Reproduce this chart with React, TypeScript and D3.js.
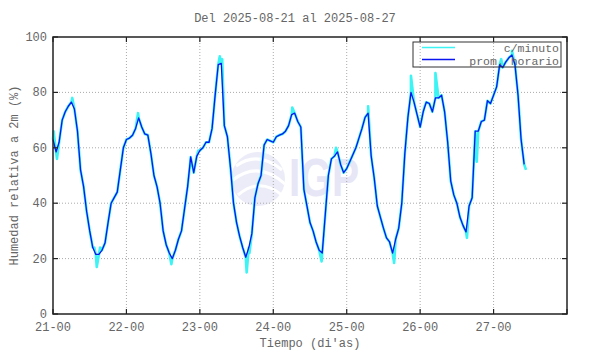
import React from "react";
import * as d3 from "d3";

// Hourly averages (prom. horario), one per hour starting 2025-08-21 00:00
const hourly: number[] = [
  63, 58.5, 62, 70, 73, 75, 76.5, 74, 66, 52, 46, 37, 30, 24, 21.5, 21.5, 23, 25.6, 33, 40, 42, 44, 52, 60,
  63, 63.5, 64.5, 67, 70.8, 67.5, 65, 64.6, 58, 50, 46, 40, 30, 25, 22, 20, 23, 27, 30, 38, 46, 56.7, 51, 57,
  59, 60, 62, 62, 67, 79, 90, 90.5, 68, 64, 53, 40, 33, 28, 24, 20.5, 24, 29, 42, 47, 50, 61, 63, 62.5,
  62, 64, 64.6, 65, 66, 68, 72, 72.5, 69.5, 67.5, 45, 39, 33, 30, 26, 23, 22, 36, 50, 56, 57, 58.5,
  54, 51, 52.5, 55, 57.5, 60, 63.5, 67, 71, 72.5, 57, 49, 39, 35, 31, 27.5, 26, 22, 27, 31, 40, 58,
  71, 80, 76.5, 72, 67.5, 73, 76.5, 76, 73, 78, 78, 79, 73, 62, 48, 43, 40, 35, 32, 29.6, 39, 42, 66, 66,
  69.5, 70, 77, 76, 79, 82, 90, 89, 91, 92.5, 93.5, 90, 79, 63, 54,
];

// Extra extremes of the per-minute series (c/minuto): [hour, value]
const minuteSpikes: [number, number][] = [
  [0.2, 66], [1.3, 56], [6.3, 78], [13.5, 24], [14.3, 17], [15.4, 24], [27.8, 72.5], [38.7, 18],
  [44.6, 52], [47.5, 59], [54.5, 93], [55.3, 92], [63.3, 15], [64.2, 22], [78.2, 74.5], [87.8, 19],
  [92.5, 60], [103, 75], [111.5, 18.4], [117, 86], [121.5, 75], [125, 87], [135.3, 27.5],
  [138.5, 55], [146.5, 92], [150, 95], [154.6, 52],
];

const yTicks = [0, 20, 40, 60, 80, 100];
const xTickLabels = ["21-00", "22-00", "23-00", "24-00", "25-00", "26-00", "27-00"];
const title = "Del 2025-08-21 al 2025-08-27";

const W = 590, H = 354;
const L = 53, R = 567, T = 37, B = 314;
const FONT = "'Liberation Mono', 'DejaVu Sans Mono', monospace";
const TXT = "#666";

export default function App() {
  const x = d3.scaleLinear().domain([0, 168]).range([L, R]);
  const y = d3.scaleLinear().domain([0, 100]).range([B, T]);

  const hourlyPts: [number, number][] = hourly.map((v, i) => [i, v]);
  const minutePts: [number, number][] = [...hourlyPts, ...minuteSpikes].sort((a, b) => a[0] - b[0]);

  const line = d3.line<[number, number]>().x(d => x(d[0])).y(d => y(d[1]));

  const dayTicks = d3.range(0, 169, 24);

  return (
    <svg width={W} height={H} style={{ position: "absolute", left: 0, top: 0, background: "#fff" }}>
      <rect x={0} y={0} width={W} height={H} fill="#fff" />
      {/* watermark */}
      <g>
        <circle cx={258} cy={179} r={27} fill="#ececf8" />
        <path d="M236,166 Q258,150 282,170" fill="none" stroke="#fff" strokeWidth={3} />
        <path d="M233,180 Q258,160 285,184" fill="none" stroke="#fff" strokeWidth={3} />
        <path d="M238,195 Q260,176 283,196" fill="none" stroke="#fff" strokeWidth={3} />
        <text x={289} y={196} fontFamily="'Liberation Sans', Arial, sans-serif" fontWeight="bold" fontSize={54}
          fill="#e6e6f6" textLength={70} lengthAdjust="spacingAndGlyphs">IGP</text>
      </g>
      {/* grid */}
      {yTicks.filter(t => t > 0 && t < 100).map(t => (
        <line key={"gy" + t} x1={L} x2={R} y1={y(t)} y2={y(t)} stroke="#aaa" strokeWidth={1} strokeDasharray="1 2" />
      ))}
      {dayTicks.filter(t => t > 0 && t < 168).map(t => (
        <line key={"gx" + t} x1={x(t)} x2={x(t)} y1={T} y2={B} stroke="#aaa" strokeWidth={1} strokeDasharray="1 2" />
      ))}
      {/* data */}
      <path d={line(minutePts) || ""} fill="none" stroke="#3cf4f4" strokeWidth={2.6} strokeLinejoin="round" />
      <path d={line(hourlyPts) || ""} fill="none" stroke="#0a14f0" strokeWidth={1.3} strokeLinejoin="round" />
      {/* frame & ticks */}
      <rect x={L} y={T} width={R - L} height={B - T} fill="none" stroke="#222" strokeWidth={1.5} />
      {yTicks.map(t => (
        <g key={"ty" + t}>
          <line x1={L} x2={L + 5} y1={y(t)} y2={y(t)} stroke="#222" strokeWidth={1.2} />
          <line x1={R} x2={R - 5} y1={y(t)} y2={y(t)} stroke="#222" strokeWidth={1.2} />
          <text x={47} y={y(t) + 4} textAnchor="end" fontFamily={FONT} fontSize={12} fill={TXT}>{t}</text>
        </g>
      ))}
      {dayTicks.map((t, i) => (
        <g key={"tx" + t}>
          <line x1={x(t)} x2={x(t)} y1={B} y2={B - 5} stroke="#222" strokeWidth={1.2} />
          <line x1={x(t)} x2={x(t)} y1={T} y2={T + 5} stroke="#222" strokeWidth={1.2} />
          {xTickLabels[i] && (
            <text x={x(t)} y={331} textAnchor="middle" fontFamily={FONT} fontSize={12} fill={TXT}>{xTickLabels[i]}</text>
          )}
        </g>
      ))}
      {/* legend */}
      <rect x={413} y={42} width={148} height={25} fill="none" stroke="#333" strokeWidth={1} />
      <line x1={422} x2={455} y1={47.5} y2={47.5} stroke="#3cf4f4" strokeWidth={1.3} />
      <text x={559} y={51.5} textAnchor="end" fontFamily={FONT} fontSize={11.5} fill={TXT}>c/minuto</text>
      <line x1={422} x2={455} y1={59.5} y2={59.5} stroke="#0a14f0" strokeWidth={1.3} />
      <text x={559} y={64.5} textAnchor="end" fontFamily={FONT} fontSize={11.5} fill={TXT}>prom. horario</text>
      {/* titles */}
      <text x={295} y={22} textAnchor="middle" fontFamily={FONT} fontSize={12} fill={TXT}>{title}</text>
      <text x={(L + R) / 2} y={347} textAnchor="middle" fontFamily={FONT} fontSize={12} fill={TXT}>Tiempo (di'as)</text>
      <text transform={`translate(18,${(T + B) / 2}) rotate(-90)`} textAnchor="middle" fontFamily={FONT} fontSize={12} fill={TXT}>
        Humedad relativa a 2m (%)
      </text>
    </svg>
  );
}
